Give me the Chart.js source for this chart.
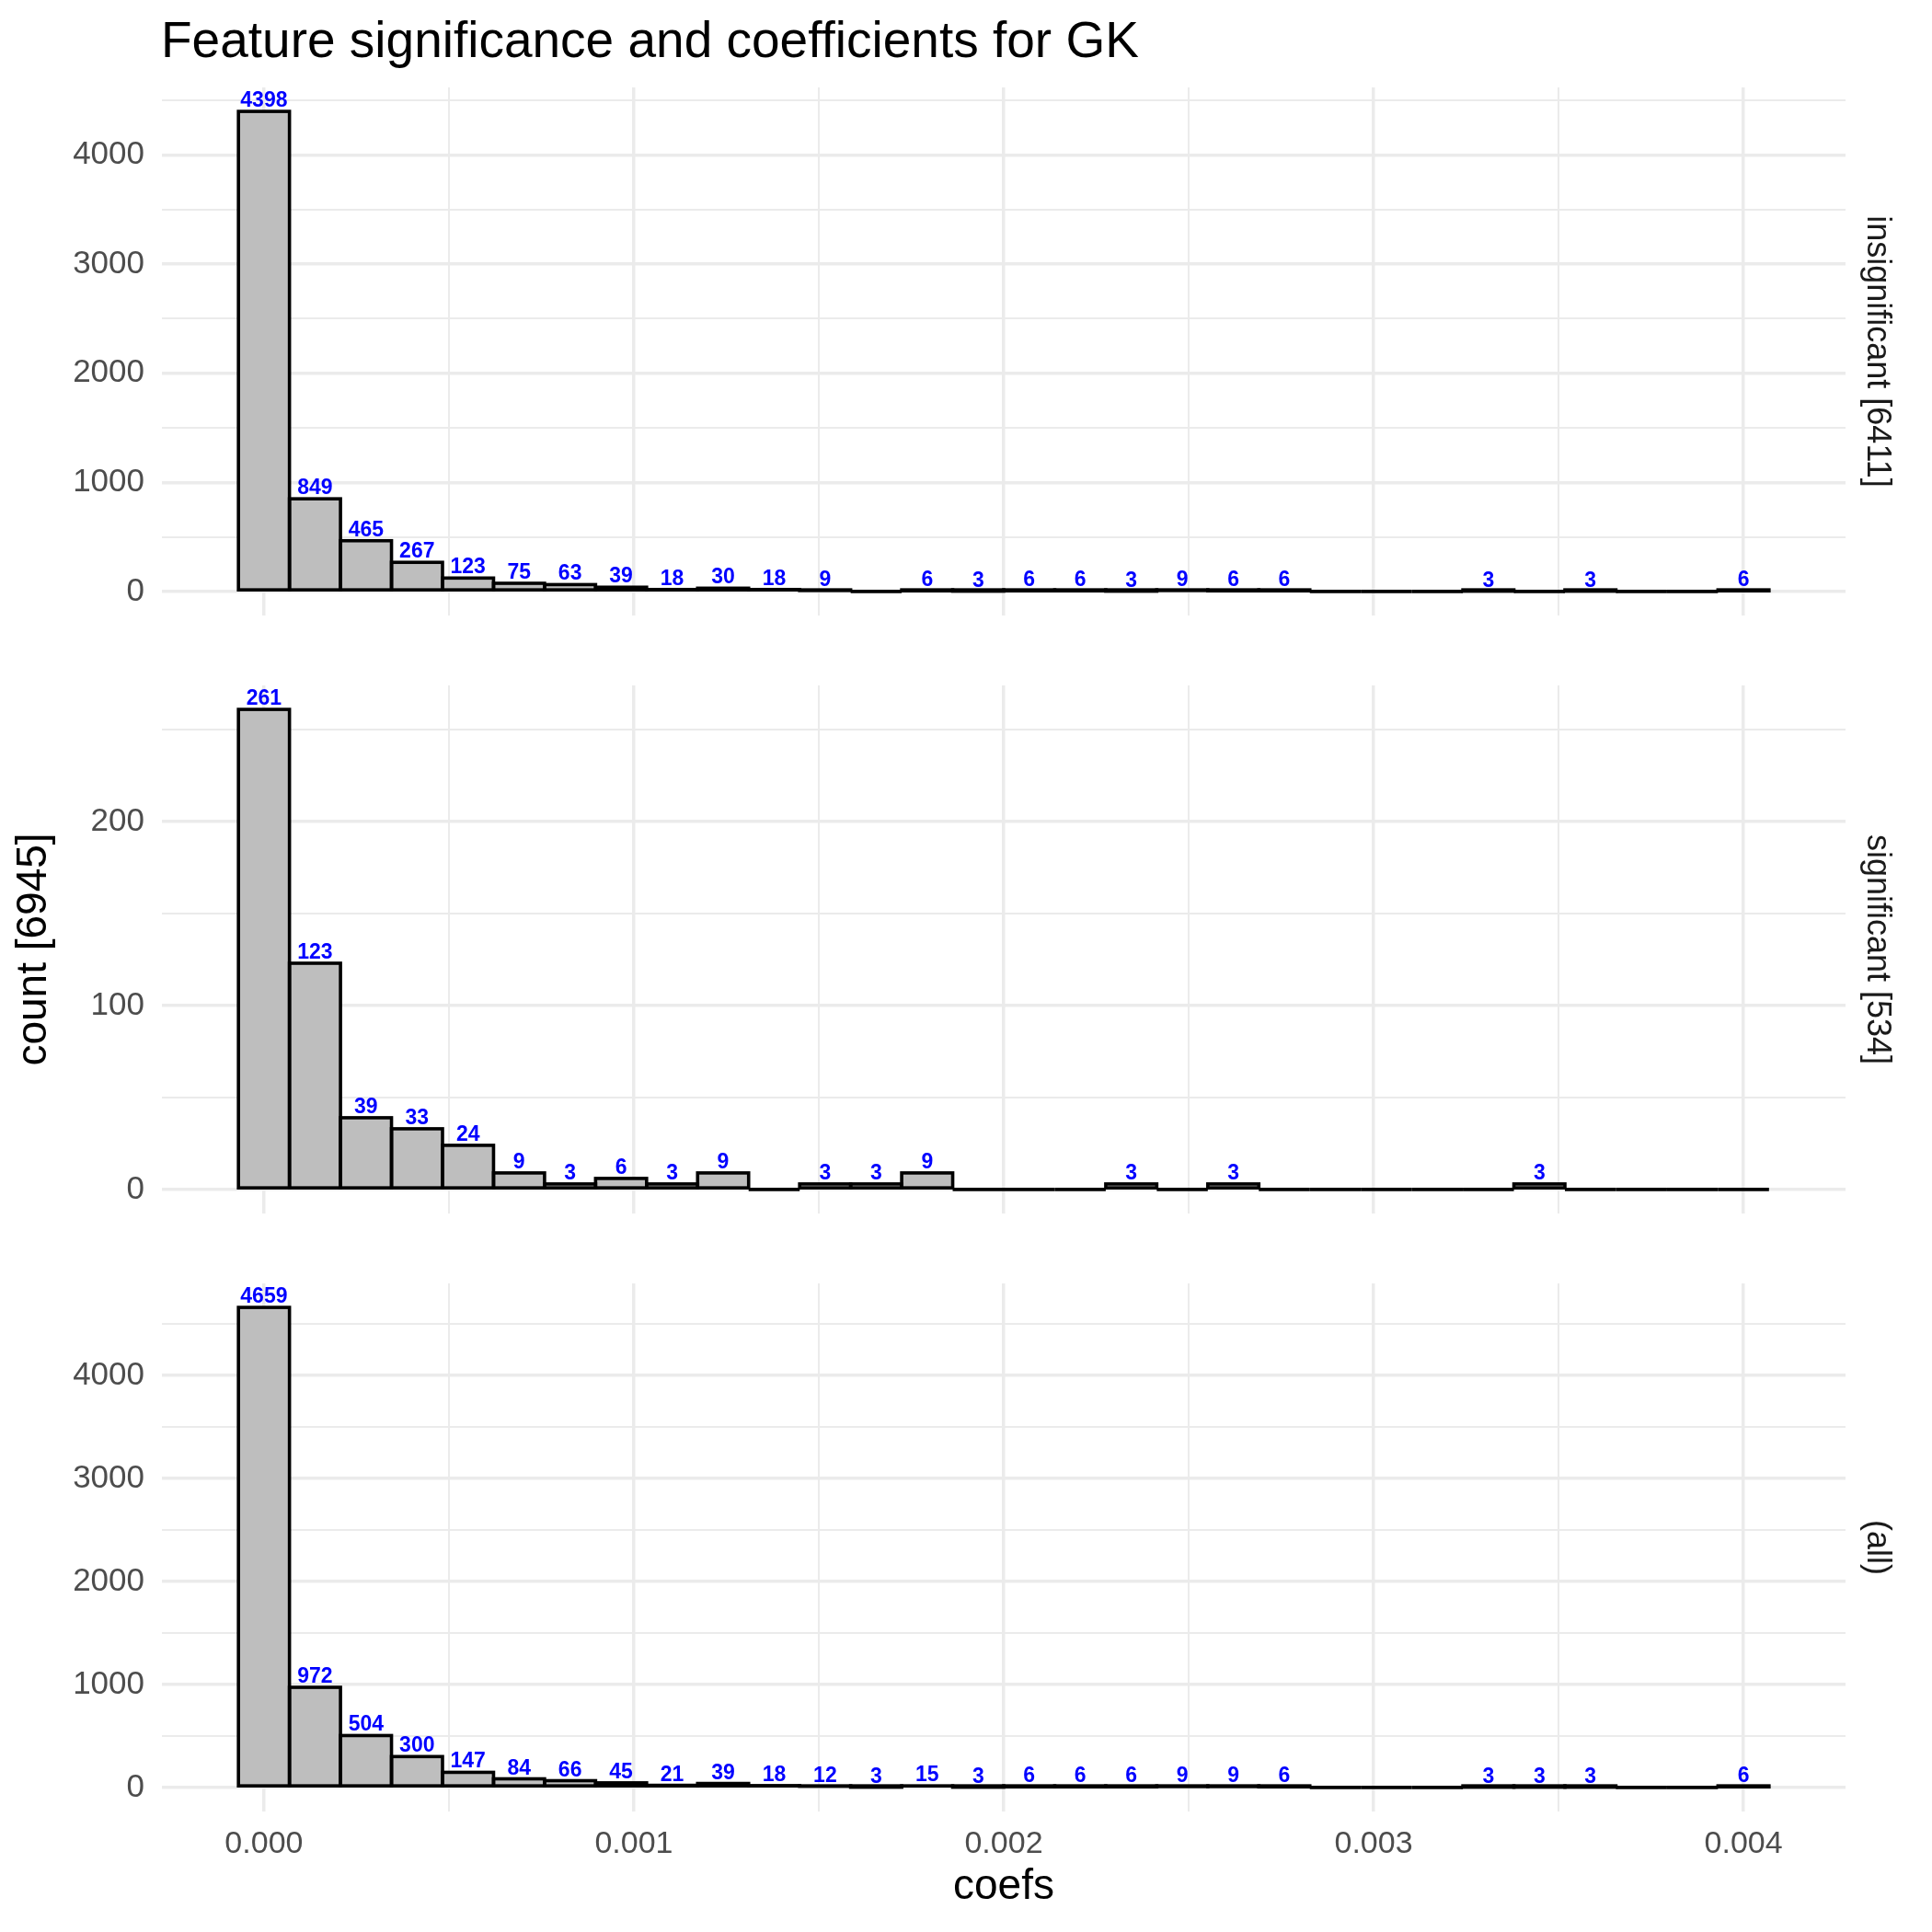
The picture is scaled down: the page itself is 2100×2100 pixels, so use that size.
<!DOCTYPE html>
<html>
<head>
<meta charset="utf-8">
<title>Feature significance and coefficients for GK</title>
<script src="https://cdn.jsdelivr.net/npm/chart.js@4.4.1/dist/chart.umd.min.js"></script>
<style>
  html, body { margin: 0; padding: 0; background: #fff; }
  #wrap { position: relative; width: 2100px; height: 2100px; }
  canvas { position: absolute; left: 0; }
</style>
</head>
<body>
<div id="wrap">
  <canvas id="panel1" width="2100" height="669" style="top:0px"></canvas>
  <canvas id="panel2" width="2100" height="650" style="top:669px"></canvas>
  <canvas id="panel3" width="2100" height="781" style="top:1319px"></canvas>
</div>
<script>
const titleText = "Feature significance and coefficients for GK";
const xTitle = "coefs";
const yTitle = "count [6945]";
const stripLabels = ["insignificant [6411]", "significant [534]", "(all)"];

// 30 histogram bins, centred from 0 up to the largest coefficient
const binCount = 30;
const coefMax = 0.004;
const binWidth = coefMax / (binCount - 1);
const binCenters = Array.from({ length: binCount }, (_, i) => i * binWidth);

const insignificantCounts = [4398, 849, 465, 267, 123, 75, 63, 39, 18, 30,
  18, 9, 0, 6, 3, 6, 6, 3, 9, 6,
  6, 0, 0, 0, 3, 0, 3, 0, 0, 6];
const significantCounts = [261, 123, 39, 33, 24, 9, 3, 6, 3, 9,
  0, 3, 3, 9, 0, 0, 0, 3, 0, 3,
  0, 0, 0, 0, 0, 3, 0, 0, 0, 0];
const allCounts = [4659, 972, 504, 300, 147, 84, 66, 45, 21, 39,
  18, 12, 3, 15, 3, 6, 6, 6, 9, 9,
  6, 0, 0, 0, 3, 3, 3, 0, 0, 6];

const xTicks = [0, 0.001, 0.002, 0.003, 0.004];
const yTicksLarge = [0, 1000, 2000, 3000, 4000];
const yTicksSmall = [0, 100, 200];

Chart.defaults.font.family = '"Liberation Sans", Arial, sans-serif';

// major ticks plus the ggplot-style minor breaks halfway between them
function withMinor(major, min, max) {
  const step = major[1] - major[0];
  const ticks = major.map(v => ({ value: v }));
  [major[0] - step / 2, ...major.map(v => v + step / 2)].forEach(v => {
    if (v >= min && v <= max) ticks.push({ value: v, minor: true });
  });
  return ticks.sort((a, b) => a.value - b.value);
}

const gridStyle = {
  color: "#EBEBEB",
  lineWidth: c => (c.tick && c.tick.minor ? 2 : 3.5),
  drawTicks: false,
  offset: false,
};

const histogramMarks = {
  id: "histogramMarks",
  afterDatasetsDraw(chart) {
    const ctx = chart.ctx;
    const meta = chart.getDatasetMeta(0);
    const points = chart.data.datasets[0].data;
    ctx.save();
    ctx.strokeStyle = "#000000";
    ctx.lineWidth = 3.6;
    meta.data.forEach(bar => {
      const { x, y, base, width } = bar.getProps(["x", "y", "base", "width"], true);
      ctx.strokeRect(x - width / 2, Math.min(y, base), width, Math.abs(base - y));
    });
    ctx.fillStyle = "#0000FF";
    ctx.font = 'bold 23px "Liberation Sans", Arial, sans-serif';
    ctx.textAlign = "center";
    ctx.textBaseline = "alphabetic";
    meta.data.forEach((bar, i) => {
      const v = points[i].y;
      if (v > 0) ctx.fillText(String(v), bar.x, bar.y - 5);
    });
    ctx.restore();
  },
};

const panelText = {
  id: "panelText",
  afterDraw(chart, args, opts) {
    const { ctx, chartArea } = chart;
    ctx.save();
    ctx.fillStyle = "#1A1A1A";
    ctx.font = '36px "Liberation Sans", Arial, sans-serif';
    ctx.textAlign = "center";
    ctx.textBaseline = "middle";
    ctx.translate(chartArea.right + 34, (chartArea.top + chartArea.bottom) / 2);
    ctx.rotate(Math.PI / 2);
    ctx.fillText(opts.strip, 0, 0);
    ctx.restore();
    if (opts.title) {
      ctx.save();
      ctx.fillStyle = "#000000";
      ctx.font = '55px "Liberation Sans", Arial, sans-serif';
      ctx.textAlign = "left";
      ctx.textBaseline = "alphabetic";
      ctx.fillText(opts.title, chartArea.left - 1, chartArea.top - 33);
      ctx.restore();
    }
  },
};

function makePanel(canvasId, counts, yMajor, strip, cfg) {
  const canvas = document.getElementById(canvasId);
  const top = Math.max(...counts);
  const xMin = -binWidth / 2 - 0.05 * binCount * binWidth;
  const xMax = coefMax + binWidth / 2 + 0.05 * binCount * binWidth;
  return new Chart(canvas.getContext("2d"), {
    type: "bar",
    data: {
      datasets: [
        {
          data: counts.map((v, i) => ({ x: binCenters[i], y: v })),
          backgroundColor: "#BEBEBE",
          borderWidth: 0,
          barPercentage: 1,
          categoryPercentage: 1,
        },
      ],
    },
    options: {
      responsive: false,
      animation: false,
      layout: { padding: { top: cfg.padTop, right: 94, bottom: 0, left: 0 } },
      plugins: {
        legend: { display: false },
        tooltip: { enabled: false },
        panelText: { strip: strip, title: cfg.title || null },
      },
      scales: {
        x: {
          type: "linear",
          offset: false,
          bounds: "data",
          min: xMin,
          max: xMax,
          afterBuildTicks: s => { s.ticks = withMinor(xTicks, s.min, s.max); },
          afterFit: s => {
            s.height = cfg.showX ? 131 : 0;
            s.paddingLeft = 0;
            s.paddingRight = 0;
          },
          border: { display: false },
          grid: gridStyle,
          ticks: {
            display: !!cfg.showX,
            autoSkip: false,
            maxRotation: 0,
            padding: 15,
            color: "#4D4D4D",
            font: { size: 34 },
            callback: (v, i, t) => (t[i].minor ? "" : Number(v).toFixed(3)),
          },
          title: {
            display: !!cfg.showX,
            text: xTitle,
            color: "#000000",
            font: { size: 46 },
            padding: { top: 0, bottom: 21 },
          },
        },
        y: {
          type: "linear",
          bounds: "data",
          min: -0.05 * top,
          max: 1.05 * top,
          afterBuildTicks: s => { s.ticks = withMinor(yMajor, s.min, s.max); },
          afterFit: s => {
            s.width = 176;
            s.paddingTop = 0;
            s.paddingBottom = 0;
          },
          border: { display: false },
          grid: gridStyle,
          ticks: {
            autoSkip: false,
            padding: 19,
            color: "#4D4D4D",
            font: { size: 35 },
            callback: (v, i, t) => (t[i].minor ? "" : String(v)),
          },
          title: {
            display: !!cfg.showY,
            text: yTitle,
            color: "#000000",
            font: { size: 46 },
            padding: { top: 10, bottom: 0 },
          },
        },
      },
    },
    plugins: [histogramMarks, panelText],
  });
}

makePanel("panel1", insignificantCounts, yTicksLarge, stripLabels[0], { padTop: 95, title: titleText });
makePanel("panel2", significantCounts, yTicksSmall, stripLabels[1], { padTop: 76, showY: true });
makePanel("panel3", allCounts, yTicksLarge, stripLabels[2], { padTop: 76, showX: true });
</script>
</body>
</html>
